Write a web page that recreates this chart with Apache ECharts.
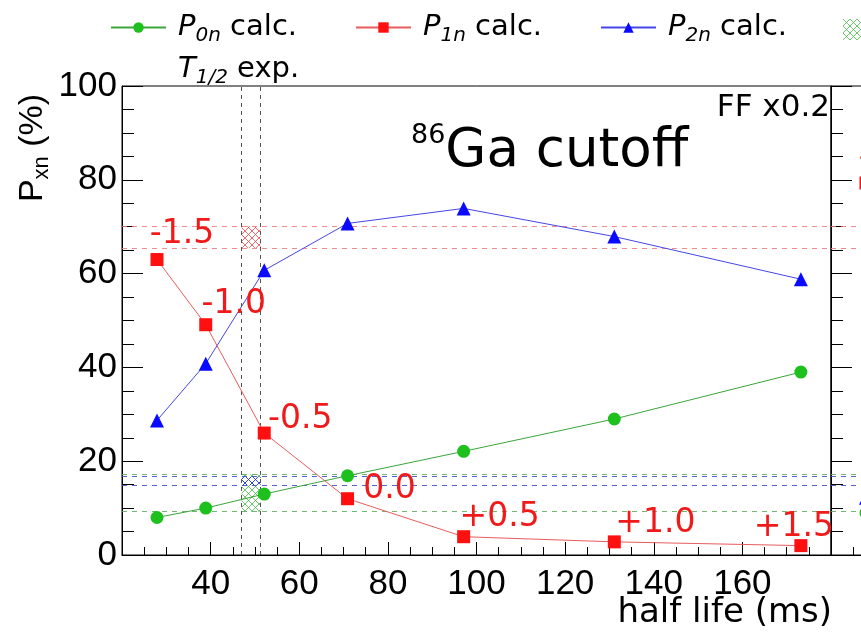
<!DOCTYPE html>
<html>
<head>
<meta charset="utf-8">
<script src="https://cdn.jsdelivr.net/npm/echarts@6/dist/echarts.min.js"></script>
<style>
  html, body { margin: 0; padding: 0; background: #fff; }
  #chart { width: 861px; height: 641px; }
</style>
</head>
<body>
<div id="chart"></div>
<script>
// Calculated half-lives (ms) for each strength shift step
const halfLife = [27.9, 38.9, 52.1, 70.9, 97.1, 131.1, 173.2];
// Calculated emission probabilities (%)
const p0nCalc = [8.0, 10.0, 13.0, 16.9, 22.1, 29.0, 39.0];
const p1nCalc = [63.0, 49.1, 26.0, 12.0, 3.9, 2.8, 2.0];
const p2nCalc = [28.7, 40.8, 60.7, 70.7, 73.9, 67.9, 58.8];
const stepLabels = ['-1.5', '-1.0', '-0.5', '0.0', '+0.5', '+1.0', '+1.5'];

// Measured ranges (low, high)
const t12Exp = [47.0, 51.3];
const p0nExp = [9.25, 17.2];
const p1nExp = [65.5, 70.1];
const p2nExp = [14.9, 16.7];

// Neighbouring panel, first step only
const nextHalfLife = [27.9];
const nextP0n = [9.0];
const nextP1n = [79.3];
const nextP2n = [12.2];
const nextLabels = ['-1.5'];

// Axis ranges: [min, max, interval]
const xRange = [20, 180, 20];
const yRange = [0, 100, 20];

// Label placement (dx, dy) relative to each red marker
const labelShift = [[25, -25], [28, -20], [36, -14], [42, -9], [36, -19], [41, -18], [-7, -18]];

const GREEN = '#1ec01e', RED = '#ff1010', BLUE = '#0a0aff';

function hatch(color, step) {
  const c = document.createElement('canvas');
  c.width = step; c.height = step;
  const g = c.getContext('2d');
  g.strokeStyle = color;
  g.lineWidth = 1;
  g.beginPath();
  g.moveTo(-1, -1); g.lineTo(step + 1, step + 1);
  g.moveTo(step + 1, -1); g.lineTo(-1, step + 1);
  g.stroke();
  return { image: c, repeat: 'repeat' };
}
const hatchGreen = hatch('rgba(60,180,60,0.75)', 7);
const hatchBlue = hatch('rgba(40,60,220,0.9)', 7);
const hatchRed = hatch('rgba(235,70,70,0.8)', 7);

const pts = ys => ys.map((y, i) => [halfLife[i], y]);
const nextPts = ys => ys.map((y, i) => [nextHalfLife[i], y]);

const FONT = 'DejaVu Sans';
const rich = {
  it: { fontStyle: 'italic', fontSize: 29, fontFamily: FONT, color: '#000', lineHeight: 36 },
  sub: { fontStyle: 'italic', fontSize: 20, fontFamily: FONT, color: '#000', verticalAlign: 'bottom', lineHeight: 22 },
  tx: { fontSize: 29, fontFamily: FONT, color: '#000', lineHeight: 36 }
};
const legendText = {
  'P0n calc.': '{it|P}{sub|0n}{tx| calc.}',
  'P1n calc.': '{it|P}{sub|1n}{tx| calc.}',
  'P2n calc.': '{it|P}{sub|2n}{tx| calc.}',
  'P0n exp.': '{it|P}{sub|0n}{tx| exp.}',
  'T1/2 exp.': '{it|T}{sub|1/2}{tx| exp.}'
};
const legendBase = {
  orient: 'horizontal', top: 13, itemWidth: 55, itemHeight: 13, itemGap: 10,
  selectedMode: false, padding: 0,
  lineStyle: { width: 2 },
  formatter: n => legendText[n],
  textStyle: { rich: rich, padding: [0, 0, 0, 7] }
};

function expMarkers(range, lineColor, fill) {
  return {
    markLine: {
      silent: true, symbol: 'none', label: { show: false },
      lineStyle: { type: [5, 5], width: 1, color: lineColor },
      data: [{ yAxis: range[0] }, { yAxis: range[1] }]
    },
    markArea: fill ? {
      silent: true, label: { show: false },
      itemStyle: { color: fill, borderWidth: 0 },
      data: [[{ xAxis: t12Exp[0], yAxis: range[0] }, { xAxis: t12Exp[1], yAxis: range[1] }]]
    } : undefined
  };
}

const axisCommon = {
  type: 'value',
  axisLine: { show: true, lineStyle: { color: '#000', width: 1 } },
  splitLine: { show: false }
};

const option = {
  animation: false,
  backgroundColor: '#fff',
  legend: [
    Object.assign({}, legendBase, { left: 110, data: ['P0n calc.'] }),
    Object.assign({}, legendBase, { left: 355, data: ['P1n calc.'] }),
    Object.assign({}, legendBase, { left: 600, data: ['P2n calc.'] }),
    Object.assign({}, legendBase, { left: 843, top: 15, data: [{ name: 'P0n exp.', icon: 'rect', itemStyle: { color: hatchGreen, borderWidth: 0 } }], itemHeight: 21 }),
    Object.assign({}, legendBase, { left: 110, top: 55, data: [{ name: 'T1/2 exp.', itemStyle: { opacity: 0 }, lineStyle: { opacity: 0 } }] })
  ],
  grid: [
    { left: 122, top: 86, width: 709, height: 469, show: true, borderColor: '#000', borderWidth: 1, backgroundColor: 'transparent', outerBoundsMode: 'none' },
    { left: 831, top: 86, width: 709, height: 469, show: true, borderColor: '#000', borderWidth: 1, backgroundColor: 'transparent', outerBoundsMode: 'none' }
  ],
  xAxis: [
    Object.assign({}, axisCommon, {
      gridIndex: 0, min: xRange[0], max: xRange[1], interval: xRange[2],
      axisTick: { show: true, inside: true, length: 13, lineStyle: { color: '#000' } },
      minorTick: { show: true, splitNumber: 4, length: 8, lineStyle: { color: '#000' } },
      axisLabel: { show: true, showMinLabel: false, showMaxLabel: false, margin: 12, color: '#000', fontSize: 35, fontFamily: 'Liberation Sans' }
    }),
    Object.assign({}, axisCommon, {
      gridIndex: 1, min: xRange[0], max: xRange[1], interval: xRange[2],
      axisTick: { show: true, inside: true, length: 13, lineStyle: { color: '#000' } },
      minorTick: { show: true, splitNumber: 4, length: 8, lineStyle: { color: '#000' } },
      axisLabel: { show: false }
    })
  ],
  yAxis: [
    Object.assign({}, axisCommon, {
      gridIndex: 0, min: yRange[0], max: yRange[1], interval: yRange[2],
      axisTick: { show: true, inside: true, length: 21, lineStyle: { color: '#000' } },
      minorTick: { show: true, splitNumber: 4, length: 12, lineStyle: { color: '#000' } },
      axisLabel: { show: true, margin: 5, color: '#000', fontSize: 35, fontFamily: 'Liberation Sans' }
    }),
    Object.assign({}, axisCommon, {
      gridIndex: 1, min: yRange[0], max: yRange[1], interval: yRange[2],
      axisTick: { show: true, inside: true, length: 21, lineStyle: { color: '#000' } },
      minorTick: { show: true, splitNumber: 4, length: 12, lineStyle: { color: '#000' } },
      axisLabel: { show: false }
    })
  ],
  series: [
    Object.assign({
      name: 'P0n exp.', type: 'line', xAxisIndex: 0, yAxisIndex: 0, data: [],
      itemStyle: { color: hatchGreen }
    }, expMarkers(p0nExp, 'rgba(90,170,90,0.85)', hatchGreen)),
    Object.assign({
      name: 'P2n exp.', type: 'line', xAxisIndex: 0, yAxisIndex: 0, data: []
    }, expMarkers(p2nExp, 'rgba(60,70,190,0.85)', hatchBlue)),
    Object.assign({
      name: 'P1n exp.', type: 'line', xAxisIndex: 0, yAxisIndex: 0, data: []
    }, expMarkers(p1nExp, 'rgba(240,120,120,0.85)', hatchRed)),
    {
      name: 'T1/2 exp.', type: 'line', xAxisIndex: 0, yAxisIndex: 0, data: [],
      markLine: {
        silent: true, symbol: 'none', label: { show: false },
        lineStyle: { type: [4, 4], width: 1, color: '#555' },
        data: [{ xAxis: t12Exp[0] }, { xAxis: t12Exp[1] }]
      }
    },
    {
      name: 'P0n calc.', type: 'line', xAxisIndex: 0, yAxisIndex: 0, data: pts(p0nCalc),
      symbol: 'circle', symbolSize: 13, z: 5,
      itemStyle: { color: GREEN },
      lineStyle: { color: '#3aa53a', width: 1 }
    },
    {
      name: 'P1n calc.', type: 'line', xAxisIndex: 0, yAxisIndex: 0, z: 6,
      data: pts(p1nCalc).map((p, i) => ({
        value: p,
        label: {
          show: true, formatter: stepLabels[i], position: 'inside', offset: labelShift[i],
          color: '#f01a1a', fontSize: 33, fontFamily: FONT
        }
      })),
      symbol: 'rect', symbolSize: 13,
      itemStyle: { color: RED },
      lineStyle: { color: '#e85c5c', width: 1 }
    },
    {
      name: 'P2n calc.', type: 'line', xAxisIndex: 0, yAxisIndex: 0, data: pts(p2nCalc),
      symbol: 'triangle', symbolSize: 14, z: 5,
      itemStyle: { color: BLUE },
      lineStyle: { color: '#4646e6', width: 1 }
    },
    // neighbouring panel
    Object.assign({ name: 'next P0n exp.', type: 'line', xAxisIndex: 1, yAxisIndex: 1, data: [] },
      expMarkers(p0nExp, 'rgba(90,170,90,0.85)', null)),
    Object.assign({ name: 'next P2n exp.', type: 'line', xAxisIndex: 1, yAxisIndex: 1, data: [] },
      expMarkers(p2nExp, 'rgba(60,70,190,0.85)', null)),
    Object.assign({ name: 'next P1n exp.', type: 'line', xAxisIndex: 1, yAxisIndex: 1, data: [] },
      expMarkers(p1nExp, 'rgba(240,120,120,0.85)', null)),
    {
      name: 'next P0n', type: 'line', xAxisIndex: 1, yAxisIndex: 1, data: nextPts(nextP0n),
      symbol: 'circle', symbolSize: 13, itemStyle: { color: GREEN }
    },
    {
      name: 'next P1n', type: 'line', xAxisIndex: 1, yAxisIndex: 1,
      data: nextPts(nextP1n).map((p, i) => ({
        value: p,
        label: { show: true, formatter: nextLabels[i], position: 'inside', offset: labelShift[0],
          color: '#f01a1a', fontSize: 33, fontFamily: FONT }
      })),
      symbol: 'rect', symbolSize: 13, itemStyle: { color: RED }
    },
    {
      name: 'next P2n', type: 'line', xAxisIndex: 1, yAxisIndex: 1, data: nextPts(nextP2n),
      symbol: 'triangle', symbolSize: 14, itemStyle: { color: BLUE }
    }
  ],
  graphic: [
    {
      type: 'text', x: 33, y: 148, rotation: Math.PI / 2,
      style: {
        text: '{p|P}{s|xn}{t| (%)}', align: 'center', verticalAlign: 'middle',
        rich: {
          p: { fontSize: 34, fontFamily: 'Liberation Sans', fill: '#000', lineHeight: 40 },
          s: { fontSize: 22, fontFamily: 'Liberation Sans', fill: '#000', verticalAlign: 'bottom', lineHeight: 22 },
          t: { fontSize: 34, fontFamily: 'Liberation Sans', fill: '#000', lineHeight: 40 }
        }
      }
    },
    {
      type: 'text', x: 832, y: 613,
      style: { text: 'half life (ms)', align: 'right', verticalAlign: 'middle', fontSize: 34, fontFamily: FONT, fill: '#000' }
    },
    {
      type: 'text', x: 411, y: 152,
      style: {
        text: '{sup|86}{big|Ga cutoff}', align: 'left', verticalAlign: 'middle',
        rich: {
          sup: { fontSize: 27, fontFamily: FONT, fill: '#000', verticalAlign: 'top', lineHeight: 36 },
          big: { fontSize: 53, fontFamily: FONT, fill: '#000', lineHeight: 60 }
        }
      }
    },
    {
      type: 'text', x: 830, y: 108,
      style: { text: 'FF x0.2', align: 'right', verticalAlign: 'middle', fontSize: 31, fontFamily: FONT, fill: '#000' }
    }
  ]
};

const chart = echarts.init(document.getElementById('chart'), null, { renderer: 'canvas' });
chart.setOption(option);
</script>
</body>
</html>
